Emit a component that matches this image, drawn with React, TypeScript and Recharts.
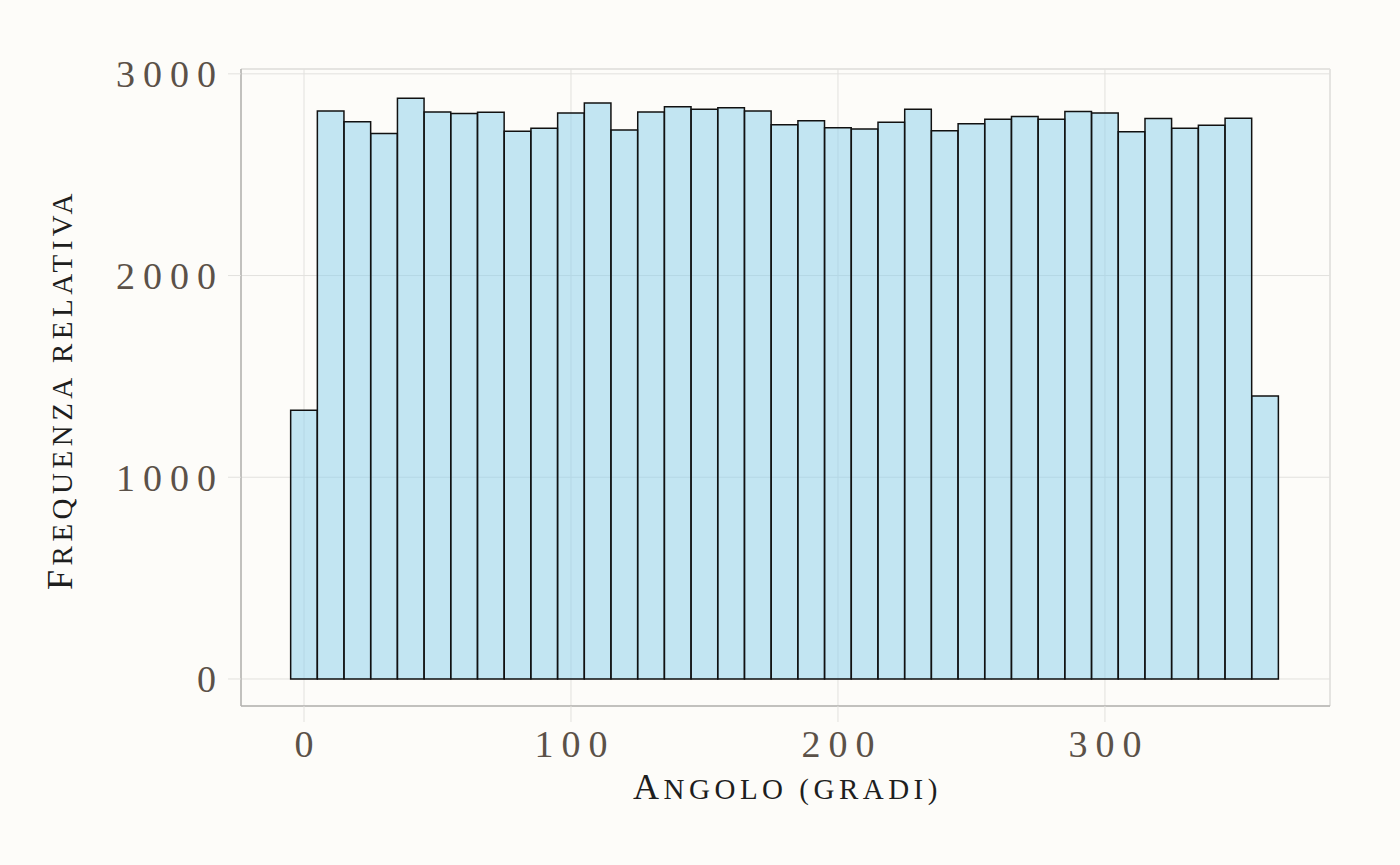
import { ComposedChart, Bar, XAxis, YAxis, CartesianGrid, ReferenceLine, Label } from 'recharts'

// bin centres (degrees) and counts
const angles = [0, 10, 20, 30, 40, 50, 60, 70, 80, 90, 100, 110, 120, 130, 140, 150, 160, 170, 180,
  190, 200, 210, 220, 230, 240, 250, 260, 270, 280, 290, 300, 310, 320, 330, 340, 350, 360]
const counts = [1332, 2816, 2762, 2704, 2879, 2811, 2803, 2810, 2715, 2730, 2806, 2856, 2722, 2811,
  2837, 2824, 2832, 2816, 2748, 2768, 2733, 2727, 2760, 2824, 2718, 2753, 2775, 2788, 2775, 2813,
  2806, 2713, 2778, 2730, 2745, 2780, 1403]
const xTicks = [0, 100, 200, 300]
const yTicks = [0, 1000, 2000, 3000]

const data = angles.map((a, i) => ({ angle: a, count: counts[i] }))

const X_DOMAIN: [number, number] = [-23.6, 384.3]
const Y_DOMAIN: [number, number] = [-134, 3024]

const bg = '#FDFCF9'
const gridColor = '#E2E1DE'
const tickColor = '#5B5148'
const titleColor = '#1E1E1E'
const serif = '"Liberation Serif", "DejaVu Serif", serif'

const tickStyle = { fontFamily: serif, fontSize: 38, fill: tickColor, letterSpacing: 8 }

// pseudo small caps: first letter full size, the rest upper-cased a bit smaller
function SmallCaps({ text }: { text: string }) {
  return (
    <>
      <tspan style={{ fontSize: 36 }}>{text.slice(0, 1)}</tspan>
      <tspan style={{ fontSize: 29, textTransform: 'uppercase' }}>{text.slice(1)}</tspan>
    </>
  )
}

const titleStyle = { fontFamily: serif, fill: titleColor, letterSpacing: 4.5 }

export default function App() {
  return (
    <div style={{ position: 'fixed', inset: 0, background: bg }}>
      <ComposedChart
        width={1400}
        height={865}
        data={data}
        margin={{ top: 69, right: 70, bottom: 0, left: 0 }}
      >
        <CartesianGrid stroke={gridColor} strokeWidth={1} />
        <XAxis
          dataKey="angle"
          type="number"
          domain={X_DOMAIN}
          ticks={xTicks}
          allowDataOverflow
          height={159}
          tickSize={16}
          tickMargin={8}
          tickLine={{ stroke: gridColor }}
          axisLine={{ stroke: '#B3B2AF', strokeWidth: 1.5 }}
          tick={{ ...tickStyle, dx: 4 }}
        >
          <Label
            content={({ viewBox }: any) => (
              <text
                x={viewBox.x + viewBox.width / 2 + 2}
                y={viewBox.y + 93}
                textAnchor="middle"
                style={titleStyle}
              >
                <SmallCaps text="Angolo (gradi)" />
              </text>
            )}
          />
        </XAxis>
        <YAxis
          type="number"
          domain={Y_DOMAIN}
          ticks={yTicks}
          allowDataOverflow
          width={241}
          tickSize={13}
          tickMargin={4}
          tickLine={{ stroke: gridColor }}
          axisLine={{ stroke: '#B3B2AF', strokeWidth: 1.5 }}
          tick={tickStyle}
        >
          <Label
            content={({ viewBox }: any) => {
              const cx = 72
              const cy = viewBox.y + viewBox.height / 2 + 2
              return (
                <text
                  x={cx}
                  y={cy}
                  textAnchor="middle"
                  transform={`rotate(-90 ${cx} ${cy})`}
                  style={titleStyle}
                >
                  <SmallCaps text="Frequenza relativa" />
                </text>
              )
            }}
          />
        </YAxis>
        <ReferenceLine y={Y_DOMAIN[1]} stroke={gridColor} strokeWidth={1.5} />
        <ReferenceLine x={X_DOMAIN[1]} stroke={gridColor} strokeWidth={1.5} />
        <Bar
          dataKey="count"
          barSize={26.6}
          fill="#87CEEB"
          fillOpacity={0.5}
          stroke="#111111"
          strokeWidth={1.5}
          isAnimationActive={false}
        />
      </ComposedChart>
    </div>
  )
}
